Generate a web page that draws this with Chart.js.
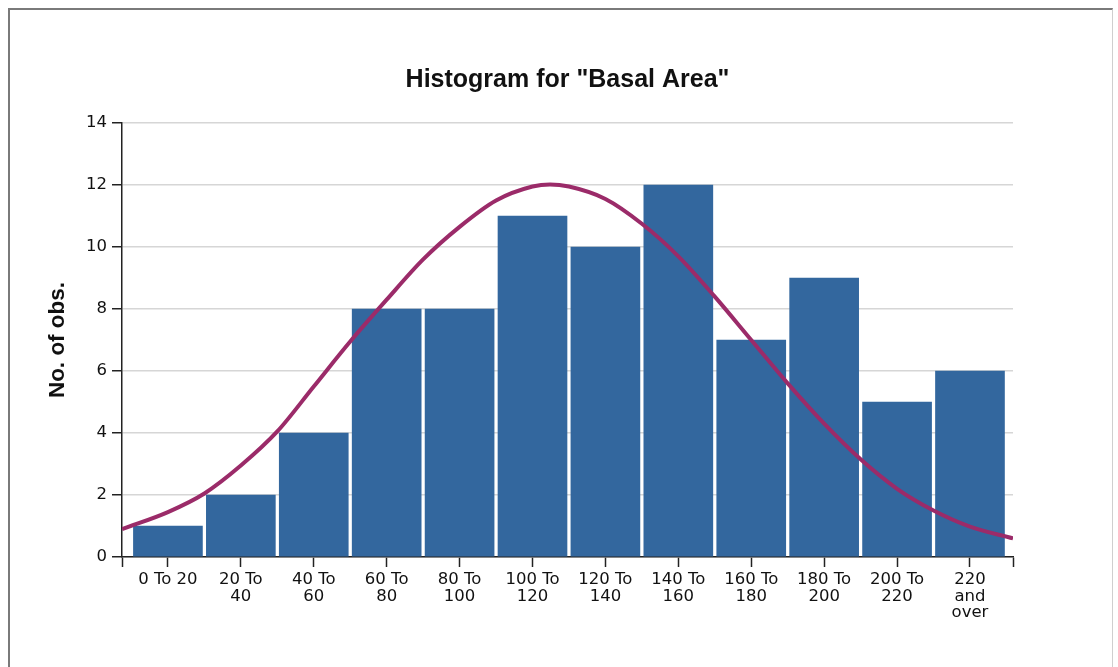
<!DOCTYPE html>
<html>
<head>
<meta charset="utf-8">
<title>Histogram for "Basal Area"</title>
<script src="https://cdn.jsdelivr.net/npm/chart.js@4.4.1/dist/chart.umd.min.js"></script>
<style>
  html, body { margin: 0; padding: 0; background: #fff; }
  #wrap { position: relative; width: 1118px; height: 667px; overflow: hidden; }
  #frame {
    position: absolute; left: 8px; top: 8px; width: 1102px; height: 700px;
    border-left: 2px solid #7a7a7a; border-top: 2px solid #7a7a7a; border-right: 1px solid #cfcfcf;
  }
  #histo { position: absolute; left: 0; top: 0; }
</style>
</head>
<body>
<div id="wrap">
  <div id="frame"></div>
  <canvas id="histo" width="1118" height="667"></canvas>
</div>
<script>
// classes of the histogram
const categories = [
  "0 To 20", "20 To 40", "40 To 60", "60 To 80", "80 To 100", "100 To 120",
  "120 To 140", "140 To 160", "160 To 180", "180 To 200", "200 To 220", "220 and over"
];
// how the labels are broken on the x axis
const tickLabels = [
  ["0 To 20"], ["20 To", "40"], ["40 To", "60"], ["60 To", "80"], ["80 To", "100"],
  ["100 To", "120"], ["120 To", "140"], ["140 To", "160"], ["160 To", "180"],
  ["180 To", "200"], ["200 To", "220"], ["220", "and", "over"]
];
// No. of obs. per class
const counts = [1, 2, 4, 8, 8, 11, 10, 12, 7, 9, 5, 6];

// normal curve (x in class units, 0 = first class)
const curveX = [-0.63, 0, 0.5, 1, 1.5, 2, 2.5, 3, 3.5, 4, 4.5, 5, 5.24, 5.5, 6, 6.5, 7, 7.5, 8, 8.5, 9, 9.5, 10, 10.5, 11, 11.59];
const curveY = [0.9, 1.45, 2.05, 2.95, 4.05, 5.5, 6.95, 8.3, 9.6, 10.65, 11.5, 11.95, 12.02, 11.95, 11.55, 10.75, 9.7, 8.4, 7.0, 5.6, 4.3, 3.15, 2.2, 1.5, 0.98, 0.6];

const yTicks = [0, 2, 4, 6, 8, 10, 12, 14];

const xMin = -0.63;
const xMax = 11.59;

const ctx = document.getElementById("histo");

const histo = new Chart(ctx, {
  data: {
    datasets: [
      {
        type: "line",
        label: "Normal",
        data: curveX.map((x, i) => ({ x: x, y: curveY[i] })),
        borderColor: "#9b2b69",
        borderWidth: 4,
        pointRadius: 0,
        cubicInterpolationMode: "monotone",
        fill: false,
        order: 0,
      },
      {
        type: "bar",
        label: "No. of obs.",
        data: counts.map((c, i) => ({ x: i, y: c })),
        backgroundColor: "#33679e",
        borderWidth: 0,
        barThickness: 69,
        order: 1,
      },
    ],
  },
  options: {
    responsive: false,
    animation: false,
    layout: { padding: { left: 0, right: 105, top: 0, bottom: 0 } },
    plugins: {
      legend: { display: false },
      tooltip: { enabled: false },
      title: {
        display: true,
        text: 'Histogram for "Basal Area"',
        fullSize: false,
        color: "#111",
        font: { family: "'Liberation Sans', Arial, sans-serif", size: 25, weight: "bold" },
        padding: { top: 65, bottom: 28 },
      },
    },
    scales: {
      x: {
        type: "linear",
        min: xMin,
        max: xMax,
        offset: false,
        afterBuildTicks: (scale) => {
          const t = [{ value: xMin }];
          categories.forEach((c, i) => t.push({ value: i }));
          t.push({ value: xMax });
          scale.ticks = t;
        },
        afterFit: (scale) => { scale.height = 110; },
        ticks: {
          autoSkip: false,
          maxRotation: 0,
          padding: 4,
          color: "#111",
          font: { family: "'DejaVu Sans', Verdana, sans-serif", size: 16.5, lineHeight: 1.02 },
          callback: (v) => (Number.isInteger(v) && tickLabels[v] ? tickLabels[v] : ""),
        },
        grid: {
          offset: false,
          drawOnChartArea: false,
          drawTicks: true,
          tickLength: 10,
          tickColor: "#222",
          tickWidth: 1.5,
        },
        border: { display: true, color: "#222", width: 1.5 },
      },
      y: {
        min: 0,
        max: 14,
        afterBuildTicks: (scale) => { scale.ticks = yTicks.map((v) => ({ value: v })); },
        afterFit: (scale) => { scale.width = 122; },
        ticks: {
          padding: 5,
          color: "#111",
          font: { family: "'DejaVu Sans', Verdana, sans-serif", size: 16.5 },
        },
        grid: {
          color: "#d6d6d6",
          lineWidth: 1.5,
          tickLength: 10,
          tickColor: "#222",
          tickWidth: 1.5,
        },
        border: { display: true, color: "#222", width: 1.5 },
        title: {
          display: true,
          text: "No. of obs.",
          color: "#111",
          font: { family: "'Liberation Sans', Arial, sans-serif", size: 22.5, weight: "bold" },
          padding: { top: 44, bottom: 0 },
        },
      },
    },
  },
});
</script>
</body>
</html>
